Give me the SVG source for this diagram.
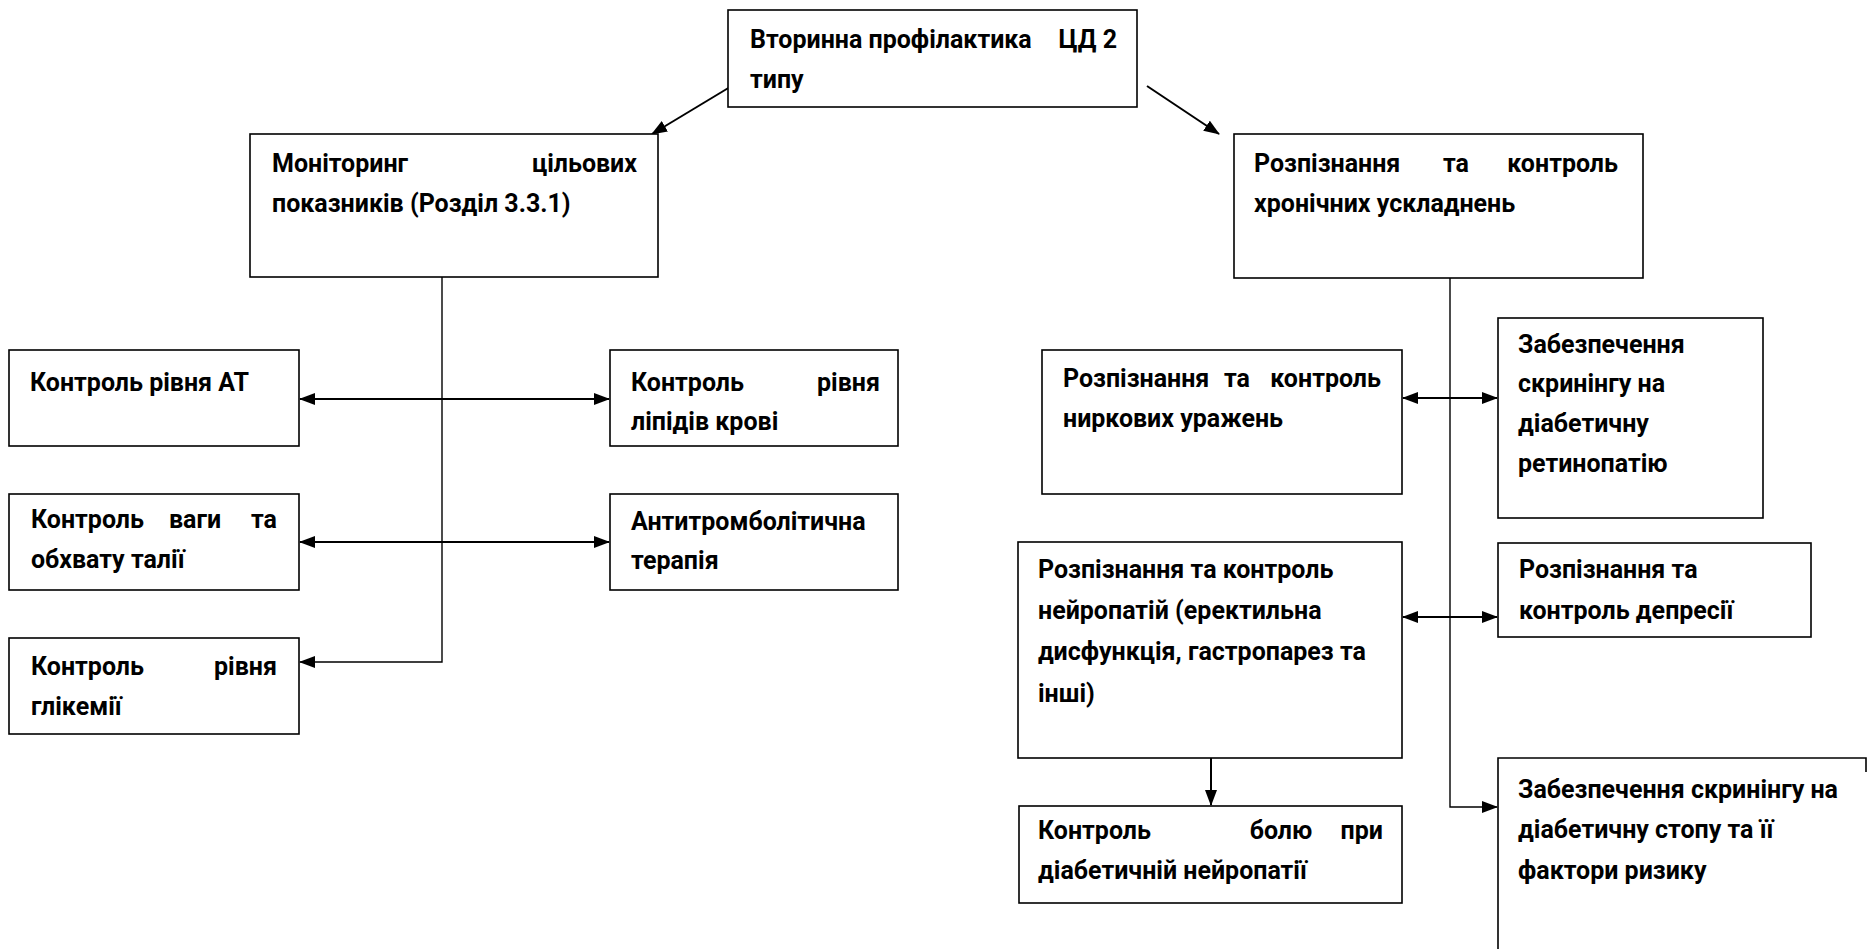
<svg xmlns="http://www.w3.org/2000/svg" width="1870" height="949" viewBox="0 0 1870 949">
<style>
  .box { fill: #ffffff; stroke: #000000; stroke-width: 1.6; }
  .t { font-family: Roboto, "Liberation Sans", sans-serif; font-weight: bold; font-size: 25px; fill: #000000; }
  .e { text-anchor: end; }
  .m { text-anchor: middle; }
  .c { fill: none; stroke: #000000; stroke-width: 2; }
  .trunk { fill: none; stroke: #000000; stroke-width: 1.4; }
</style>
<defs>
  <marker id="ah" viewBox="0 0 16 12" refX="15" refY="6" markerWidth="16" markerHeight="12" markerUnits="userSpaceOnUse" orient="auto-start-reverse">
    <path d="M0,0 L16,6 L0,12 Z" fill="#000000"/>
  </marker>
</defs>
<rect x="0" y="0" width="1870" height="949" fill="#ffffff"/>

<g id="connectors">
  <line class="c" x1="730" y1="87" x2="652" y2="134" marker-end="url(#ah)"/>
  <line class="c" x1="1147" y1="86" x2="1219" y2="134" marker-end="url(#ah)"/>
  <polyline class="trunk" points="442,277 442,662 300,662" marker-end="url(#ah)"/>
  <line class="c" x1="300" y1="399" x2="609" y2="399" marker-start="url(#ah)" marker-end="url(#ah)"/>
  <line class="c" x1="300" y1="542" x2="609" y2="542" marker-start="url(#ah)" marker-end="url(#ah)"/>
  <polyline class="trunk" points="1450,278 1450,807 1497,807" marker-end="url(#ah)"/>
  <line class="c" x1="1403" y1="398" x2="1497" y2="398" marker-start="url(#ah)" marker-end="url(#ah)"/>
  <line class="c" x1="1403" y1="617" x2="1497" y2="617" marker-start="url(#ah)" marker-end="url(#ah)"/>
  <line class="c" x1="1211" y1="758" x2="1211" y2="805" marker-end="url(#ah)"/>
</g>

<g id="n-top">
  <rect class="box" x="728" y="10" width="409" height="97"/>
  <text class="t" x="750" y="48">Вторинна профілактика</text>
  <text class="t e" x="1117" y="48">ЦД 2</text>
  <text class="t" x="750" y="88">типу</text>
</g>

<g id="n-monitoring">
  <rect class="box" x="250" y="134" width="408" height="143"/>
  <text class="t" x="272" y="172">Моніторинг</text>
  <text class="t e" x="637" y="172">цільових</text>
  <text class="t" x="272" y="212">показників (Розділ 3.3.1)</text>
</g>

<g id="n-chronic">
  <rect class="box" x="1234" y="134" width="409" height="144"/>
  <text class="t" x="1254" y="172">Розпізнання</text>
  <text class="t m" x="1456" y="172">та</text>
  <text class="t e" x="1618" y="172">контроль</text>
  <text class="t" x="1254" y="212">хронічних ускладнень</text>
</g>

<g id="n-at">
  <rect class="box" x="9" y="350" width="290" height="96"/>
  <text class="t" x="30" y="391">Контроль рівня АТ</text>
</g>

<g id="n-lipids">
  <rect class="box" x="610" y="350" width="288" height="96"/>
  <text class="t" x="631" y="391">Контроль</text>
  <text class="t e" x="880" y="391">рівня</text>
  <text class="t" x="631" y="430">ліпідів крові</text>
</g>

<g id="n-weight">
  <rect class="box" x="9" y="494" width="290" height="96"/>
  <text class="t" x="31" y="528">Контроль</text>
  <text class="t m" x="195" y="528">ваги</text>
  <text class="t e" x="277" y="528">та</text>
  <text class="t" x="31" y="568">обхвату талії</text>
</g>

<g id="n-antithrombotic">
  <rect class="box" x="610" y="494" width="288" height="96"/>
  <text class="t" x="631" y="530">Антитромболітична</text>
  <text class="t" x="631" y="569">терапія</text>
</g>

<g id="n-glycemia">
  <rect class="box" x="9" y="638" width="290" height="96"/>
  <text class="t" x="31" y="675">Контроль</text>
  <text class="t e" x="277" y="675">рівня</text>
  <text class="t" x="31" y="715">глікемії</text>
</g>

<g id="n-kidney">
  <rect class="box" x="1042" y="350" width="360" height="144"/>
  <text class="t" x="1063" y="387">Розпізнання</text>
  <text class="t m" x="1237" y="387">та</text>
  <text class="t e" x="1381" y="387">контроль</text>
  <text class="t" x="1063" y="427">ниркових уражень</text>
</g>

<g id="n-retinopathy">
  <rect class="box" x="1498" y="318" width="265" height="200"/>
  <text class="t" x="1518" y="353">Забезпечення</text>
  <text class="t" x="1518" y="392">скринінгу на</text>
  <text class="t" x="1518" y="432">діабетичну</text>
  <text class="t" x="1518" y="472">ретинопатію</text>
</g>

<g id="n-neuropathy">
  <rect class="box" x="1018" y="542" width="384" height="216"/>
  <text class="t" x="1038" y="578">Розпізнання та контроль</text>
  <text class="t" x="1038" y="619">нейропатій (еректильна</text>
  <text class="t" x="1038" y="660">дисфункція, гастропарез та</text>
  <text class="t" x="1038" y="702">інші)</text>
</g>

<g id="n-depression">
  <rect class="box" x="1498" y="543" width="313" height="94"/>
  <text class="t" x="1519" y="578">Розпізнання та</text>
  <text class="t" x="1519" y="619">контроль депресії</text>
</g>

<g id="n-pain">
  <rect class="box" x="1019" y="806" width="383" height="97"/>
  <text class="t" x="1038" y="839">Контроль</text>
  <text class="t m" x="1281" y="839">болю</text>
  <text class="t e" x="1383" y="839">при</text>
  <text class="t" x="1038" y="879">діабетичній нейропатії</text>
</g>

<g id="n-foot">
  <path class="box" d="M1498,960 V758 H1866 V772"/>
  <text class="t" x="1518" y="798">Забезпечення скринінгу на</text>
  <text class="t" x="1518" y="838">діабетичну стопу та її</text>
  <text class="t" x="1518" y="879">фактори ризику</text>
</g>
</svg>
